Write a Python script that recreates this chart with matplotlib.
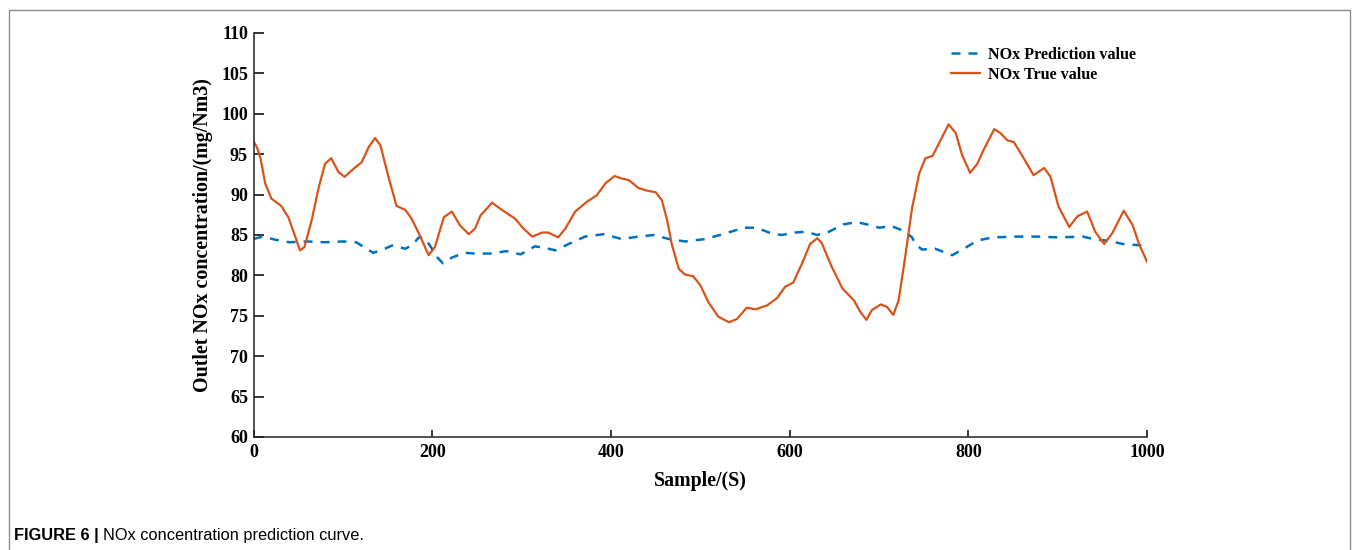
import matplotlib
matplotlib.use("Agg")
import matplotlib.pyplot as plt
import matplotlib.patches as mpatches
import numpy as np

### Data
true_x = [0, 4, 8, 13, 20, 31, 39, 46, 52, 57, 65, 73, 80, 87, 95, 102, 112, 121, 129, 136,
          142, 151, 160, 170, 177, 185, 196, 203, 213, 222, 231, 241, 248, 254, 267, 278, 293,
          302, 312, 323, 330, 341, 349, 360, 373, 384, 394, 404, 412, 420, 431, 440, 450, 457,
          463, 468, 476, 483, 492, 500, 509, 520, 532, 541, 552, 562, 575, 586, 595, 604, 614,
          623, 631, 636, 647, 659, 672, 679, 686, 692, 702, 709, 716, 722, 729, 737, 745, 752,
          760, 767, 778, 786, 793, 802, 810, 817, 829, 836, 844, 851, 862, 873, 885, 892, 901,
          913, 922, 933, 942, 952, 961, 974, 984, 991, 1000]
true_y = [96.6, 95.8, 94.4, 91.4, 89.5, 88.6, 87.2, 85.0, 83.1, 83.5, 86.8, 90.9, 93.8, 94.5,
          92.8, 92.2, 93.2, 94.0, 95.9, 97.0, 96.1, 92.2, 88.6, 88.1, 87.0, 85.2, 82.5, 83.5,
          87.2, 87.9, 86.2, 85.1, 85.8, 87.4, 89.0, 88.1, 87.0, 85.8, 84.8, 85.3, 85.3, 84.7,
          85.8, 87.9, 89.1, 89.9, 91.4, 92.3, 92.0, 91.8, 90.8, 90.5, 90.3, 89.3, 86.8, 83.9,
          80.8, 80.1, 79.9, 78.8, 76.7, 74.9, 74.2, 74.6, 76.0, 75.8, 76.3, 77.2, 78.6, 79.1,
          81.5, 83.9, 84.6, 84.0, 81.1, 78.4, 76.9, 75.5, 74.5, 75.7, 76.4, 76.1, 75.1, 76.9,
          82.0, 88.3, 92.6, 94.5, 94.8, 96.3, 98.7, 97.6, 94.9, 92.7, 93.8, 95.5, 98.1, 97.6,
          96.7, 96.5, 94.5, 92.4, 93.3, 92.2, 88.5, 86.0, 87.3, 87.9, 85.4, 83.9, 85.2, 88.0,
          86.2, 83.9, 81.7]

pred_x = [0, 10, 25, 40, 60, 80, 100, 115, 125, 134, 145, 155, 163, 170, 178, 185, 192, 198,
          205, 212, 222, 236, 248, 265, 283, 299, 315, 326, 338, 353, 371, 392, 412, 431, 448,
          465, 483, 506, 528, 549, 563, 577, 591, 606, 618, 631, 644, 660, 675, 687, 700, 714,
          728, 737, 741, 748, 763, 782, 795, 810, 827, 853, 879, 901, 928, 944, 957, 972, 995]
pred_y = [84.5, 84.8, 84.4, 84.1, 84.2, 84.1, 84.2, 84.1, 83.4, 82.8, 83.2, 83.7, 83.5, 83.3,
          83.8, 84.7, 84.6, 83.6, 82.3, 81.5, 82.2, 82.8, 82.7, 82.7, 83.0, 82.6, 83.6, 83.4,
          83.1, 83.9, 84.8, 85.1, 84.5, 84.8, 85.0, 84.5, 84.2, 84.5, 85.2, 85.9, 85.9, 85.3,
          85.0, 85.3, 85.4, 85.0, 85.4, 86.3, 86.6, 86.3, 85.9, 86.1, 85.5, 84.7, 83.9, 83.2,
          83.3, 82.5, 83.3, 84.3, 84.7, 84.8, 84.8, 84.7, 84.8, 84.4, 84.3, 83.9, 83.7]

xticks = [0, 200, 400, 600, 800, 1000]
yticks = np.arange(60, 111, 5)

plt.rcParams['font.family'] = ['Liberation Serif', 'DejaVu Serif']
plt.rcParams['font.weight'] = 'bold'

fig = plt.figure(figsize=(13.55, 5.5), dpi=100)
ax = fig.add_axes([0.1871, 0.2055, 0.6594, 0.7345])

# Frame around the figure panel
fig.patches.append(mpatches.Rectangle((9/1355, -0.05), 1341/1355, 1.05 - 10/550,
                                      transform=fig.transFigure, fill=False,
                                      edgecolor='#8c8c8c', lw=1.0))

ax.plot(pred_x, pred_y, color='#0072BD', lw=1.8, dashes=(3.6, 3.2),
        label='NOx Prediction value')
ax.plot(true_x, true_y, color='#D95319', lw=1.6, label='NOx True value')

ax.set_xlim(0, 1000)
ax.set_ylim(60, 110)
ax.set_xticks(xticks)
ax.set_yticks(yticks)
ax.spines['top'].set_visible(False)
ax.spines['right'].set_visible(False)
for s in ['left', 'bottom']:
    ax.spines[s].set_linewidth(1.1)
    ax.spines[s].set_color('#222222')
ax.tick_params(axis='y', direction='in', length=7, width=1.1, labelsize=13, pad=4)
ax.tick_params(axis='x', direction='in', length=5, width=1.1, labelsize=13, pad=5)
for lab in ax.get_xticklabels() + ax.get_yticklabels():
    lab.set_fontweight('bold')

ax.set_xlabel('Sample/(S)', fontsize=14.4, fontweight='bold', labelpad=7)
ax.set_ylabel('Outlet NOx concentration/(mg/Nm3)', fontsize=14.4, fontweight='bold', labelpad=6)

ax.legend(loc='upper left', bbox_to_anchor=(0.772, 0.985), frameon=False,
          prop={'family': 'Liberation Serif', 'weight': 'bold', 'size': 11.6},
          handlelength=1.8, handletextpad=0.45, labelspacing=0.22, borderpad=0)

# Caption: bold label followed by regular text
cap_y = 1 - 540/550
t1 = fig.text(14/1355, cap_y, 'FIGURE 6 |', fontsize=11.8, fontweight='bold',
              family='Liberation Sans', va='baseline')
fig.canvas.draw()
bb = t1.get_window_extent(renderer=fig.canvas.get_renderer())
fig.text((bb.x1 + 4)/1355, cap_y, 'NOx concentration prediction curve.', fontsize=11.8,
         fontweight='normal', family='Liberation Sans', va='baseline')

fig.savefig('out.png', dpi=100)
